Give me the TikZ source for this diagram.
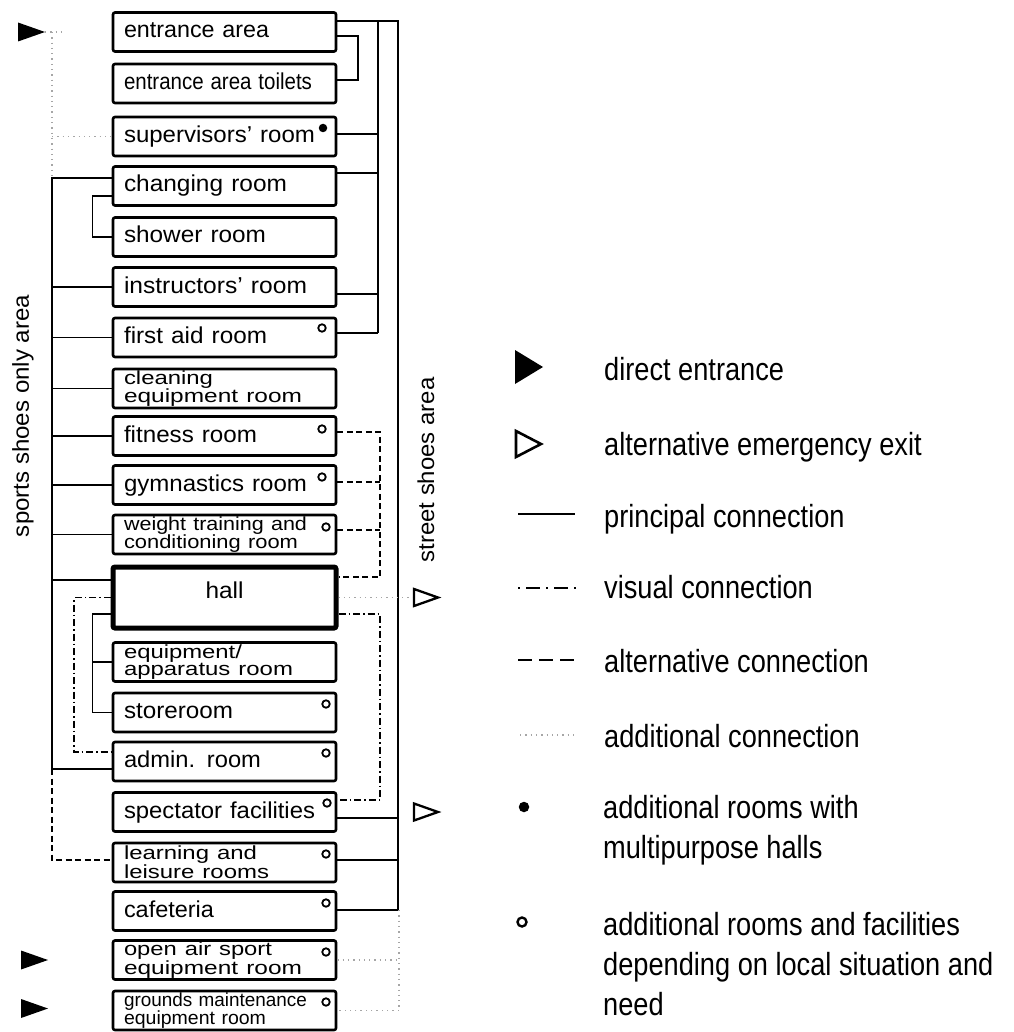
\documentclass[tikz,border=0pt]{standalone}
\usepackage{fontspec}
\usepackage{graphicx}
\setmainfont{Liberation Sans}
\newfontfamily\legfont[FakeStretch=0.85]{Liberation Sans}
\newcommand\fw[2]{\resizebox{#1pt}{\height}{#2}}
\begin{document}
\begin{tikzpicture}[x=1pt,y=-1pt,
  room/.style={draw, line width=2.6pt, rounded corners=2pt, minimum width=223pt, minimum height=39pt,
    text width=201pt, inner xsep=11pt, inner ysep=0pt, align=left},
  room1/.style={room, font=\fontsize{23}{23}\selectfont, text height=17pt, text depth=5pt},
  room2/.style={room, font=\fontsize{19}{17}\selectfont},
  hallbox/.style={room1, line width=5pt, minimum height=61pt, align=center, text depth=15pt, text height=16pt},
  prin/.style={line width=1.8pt},
  alt/.style={line width=1.8pt, dash pattern=on 6pt off 3.5pt},
  visual/.style={line width=1.8pt, dash pattern=on 7pt off 3pt on 1.5pt off 3pt},
  addl/.style={line width=1.3pt, gray!70, dash pattern=on 1.3pt off 4pt},
  opt/.style={circle, draw, line width=1.8pt, inner sep=0pt, minimum size=7.5pt},
  dotf/.style={circle, fill, inner sep=0pt, minimum size=8.5pt},
  side/.style={rotate=90, font=\fontsize{23}{23}\selectfont, inner sep=0pt},
  legtxt/.style={font=\legfont\fontsize{32}{40}\selectfont, inner sep=0pt},
  entr/.pic={\fill (-27,-9.5) -- (0,0) -- (-27,9.5) -- cycle;},
  exitp/.pic={\draw[line width=2.3pt, line join=miter] (0,-8.5) -- (24,0) -- (0,8.5) -- cycle;}
]
\useasboundingbox (0,0) rectangle (1013,1032);

% ---------- rooms ----------
\node[room1] (ent) at (224.5,32)   {\fw{145}{entrance area}};
\node[room1] (toi) at (224.5,83.5) {\fw{188}{entrance area toilets}};
\node[room1] (sup) at (224.5,136.5){\fw{191}{supervisors' room}};
\node[room1] (chg) at (224.5,186)  {\fw{163}{changing room}};
\node[room1] (sho) at (224.5,237)  {\fw{142}{shower room}};
\node[room1] (ins) at (224.5,287)  {\fw{183}{instructors' room}};
\node[room1] (fai) at (224.5,337.5){\fw{143}{first aid room}};
\node[room2] (cle) at (224.5,388.5){\fw{89}{cleaning}\\\fw{178}{equipment room}};
\node[room1] (fit) at (224.5,436)  {\fw{133}{fitness room}};
\node[room1] (gym) at (224.5,485)  {\fw{183}{gymnastics room}};
\node[room2] (wei) at (224.5,534.5){\fw{183}{weight training and}\\\fw{174}{conditioning room}};
\node[hallbox] (hall) at (224.5,597.5) {\fw{38}{hall}};
\node[room2] (equ) at (224.5,662)  {\fw{118}{equipment/}\\\fw{169}{apparatus room}};
\node[room1] (sto) at (224.5,712.5){\fw{109}{storeroom}};
\node[room1] (adm) at (224.5,761.5){\fw{137}{admin. room}};
\node[room1] (spe) at (224.5,812)  {\fw{191}{spectator facilities}};
\node[room2] (lea) at (224.5,862.5){\fw{133}{learning and}\\\fw{145}{leisure rooms}};
\node[room1] (caf) at (224.5,911)  {\fw{90}{cafeteria}};
\node[room2] (ope) at (224.5,960)  {\fw{148}{open air sport}\\\fw{178}{equipment room}};
\node[room2] (gro) at (224.5,1010.5){\fw{183}{grounds maintenance}\\\fw{142}{equipment room}};

% ---------- markers ----------
\node[dotf] (supd) at (323,128) {};
\node[opt] (faio) at (322,328) {};
\node[opt] (fito) at (322,429) {};
\node[opt] (gymo) at (322,477) {};
\node[opt] (weio) at (326,527) {};
\node[opt] (stoo) at (326,704) {};
\node[opt] (admo) at (326,753) {};
\node[opt] (speo) at (327,803) {};
\node[opt] (leao) at (326,854) {};
\node[opt] (cafo) at (326,903) {};
\node[opt] (opeo) at (326,952) {};
\node[opt] (groo) at (326,1002) {};

% ---------- side labels ----------
\node[side] (sports) at (23,416) {\fw{242}{sports shoes only area}};
\node[side] (street) at (426,470) {\fw{185}{street shoes area}};

% ---------- attach points ----------
\coordinate (xA) at (52,0);
\coordinate (xB) at (74,0);
\coordinate (xC) at (92.5,0);
\coordinate (xT) at (358,0);
\coordinate (xI) at (378,0);
\coordinate (xD) at (380,0);
\coordinate (xO) at (398,0);
\coordinate (xP) at (399,0);

\coordinate (chgL1) at ([yshift=8pt]chg.west);
\coordinate (chgL2) at ([yshift=-10pt]chg.west);
\coordinate (hallL1) at ([yshift=17.5pt]hall.west);
\coordinate (hallL2) at ([yshift=-16.5pt]hall.west);
\coordinate (admL1) at ([yshift=9.5pt]adm.west);
\coordinate (admL2) at ([yshift=-7.5pt]adm.west);
\coordinate (leaL) at ([yshift=2.5pt]lea.west);

\coordinate (entR1) at ([yshift=11pt]ent.east);
\coordinate (entR2) at ([yshift=-4pt]ent.east);
\coordinate (toiR) at ([yshift=3.5pt]toi.east);
\coordinate (supR) at ([yshift=2.5pt]sup.east);
\coordinate (chgR) at ([yshift=13pt]chg.east);
\coordinate (insR) at ([yshift=-7pt]ins.east);
\coordinate (faiR) at ([yshift=4.5pt]fai.east);
\coordinate (fitR) at ([yshift=4pt]fit.east);
\coordinate (gymR) at ([yshift=3pt]gym.east);
\coordinate (weiR) at ([yshift=4.5pt]wei.east);
\coordinate (hallR1) at ([yshift=20.5pt]hall.east);
\coordinate (hallR3) at ([yshift=-16.5pt]hall.east);
\coordinate (speR1) at ([yshift=12pt]spe.east);
\coordinate (speR2) at ([yshift=-6pt]spe.east);
\coordinate (leaR) at ([yshift=2.5pt]lea.east);
\coordinate (cafR) at ([yshift=1pt]caf.east);

\coordinate (ea) at (45,32);
\coordinate (eb) at (48,960);
\coordinate (ec) at (48,1008.5);
\coordinate (ex1) at (414,597.5);
\coordinate (ex2) at (414,812);

% ---------- left connections ----------
\draw[prin] (chgL1) -- (xA |- chgL1) -- (xA |- admL2) -- (admL2);
\foreach \n in {ins,fai,cle,fit,gym,wei} \draw[prin] (\n.west) -- (xA |- \n.west);
\draw[prin] (hallL1) -- (xA |- hallL1);
\draw[prin] (chgL2) -| (xC |- sho.west) -- (sho.west);
\draw[prin] (hallL2) -| (xC |- sto.west) -- (sto.west);
\draw[prin] (equ.west) -- (xC |- equ.west);
\draw[visual] (hall.west) -| (xB |- admL1) -- (admL1);
\draw[alt] (xA |- admL2) -- (xA |- leaL) -- (leaL);

% ---------- right connections ----------
\draw[prin] (entR1) -| (xO |- cafR) -- (cafR);
\draw[prin] (xI |- entR1) -- (xI |- faiR);
\draw[prin] (entR2) -| (xT |- toiR) -- (toiR);
\foreach \c in {supR,chgR,insR,faiR} \draw[prin] (\c) -- (xI |- \c);
\draw[prin] (speR2) -- (xO |- speR2);
\draw[prin] (leaR) -- (xO |- leaR);
\draw[alt] (fitR) -| (xD |- hallR1) -- (hallR1);
\draw[alt] (gymR) -- (xD |- gymR);
\draw[alt] (weiR) -- (xD |- weiR);
\draw[visual] (hallR3) -| (xD |- speR1) -- (speR1);

% ---------- additional (dotted) ----------
\draw[addl] (ea) -- ++(21,0);
\draw[addl] (xA |- ea) -- (xA |- chgL1);
\draw[addl] (xA |- sup.west) -- (sup.west);
\draw[addl] (hall.east) -- (ex1);
\draw[addl] (xP |- cafR) -- (xP |- gro.east) -- (gro.east);
\draw[addl] (ope.east) -- (xP |- ope.east);

% ---------- entrances / exits ----------
\pic at (ea) {entr};
\pic at (eb) {entr};
\pic at (ec) {entr};
\pic at (ex1) {exitp};
\pic at (ex2) {exitp};

% ---------- legend ----------
\fill (515,350) -- (543,367) -- (515,384) -- cycle;
\draw[line width=2.6pt, line join=miter] (516,431) -- (541,444) -- (516,457) -- cycle;
\draw[line width=2.4pt] (518,514) -- (575,514);
\draw[line width=2.2pt, dash pattern=on 2pt off 6pt on 14pt off 6pt] (518,588) -- (580,588);
\draw[line width=2.2pt, dash pattern=on 14pt off 7pt] (518,660) -- (580,660);
\draw[addl] (520,735) -- (578,735);
\node[dotf, minimum size=10.5pt] (lgd1) at (524,807) {};
\node[opt, minimum size=9pt, line width=2.4pt] (lgd2) at (522,922) {};

\node[legtxt, anchor=base west] (l1) at (604,380) {direct entrance};
\node[legtxt, anchor=base west] (l2) at (604,455) {alternative emergency exit};
\node[legtxt, anchor=base west] (l3) at (604,527) {principal connection};
\node[legtxt, anchor=base west] (l4) at (604,598) {visual connection};
\node[legtxt, anchor=base west] (l5) at (604,672) {alternative connection};
\node[legtxt, anchor=base west] (l6) at (604,747) {additional connection};
\node[legtxt, anchor=north west, align=left] (l7) at (603,795) {additional rooms with\\multipurpose halls};
\node[legtxt, anchor=north west, align=left] (l8) at (603,912) {additional rooms and facilities\\depending on local situation and\\need};
\end{tikzpicture}
\end{document}
